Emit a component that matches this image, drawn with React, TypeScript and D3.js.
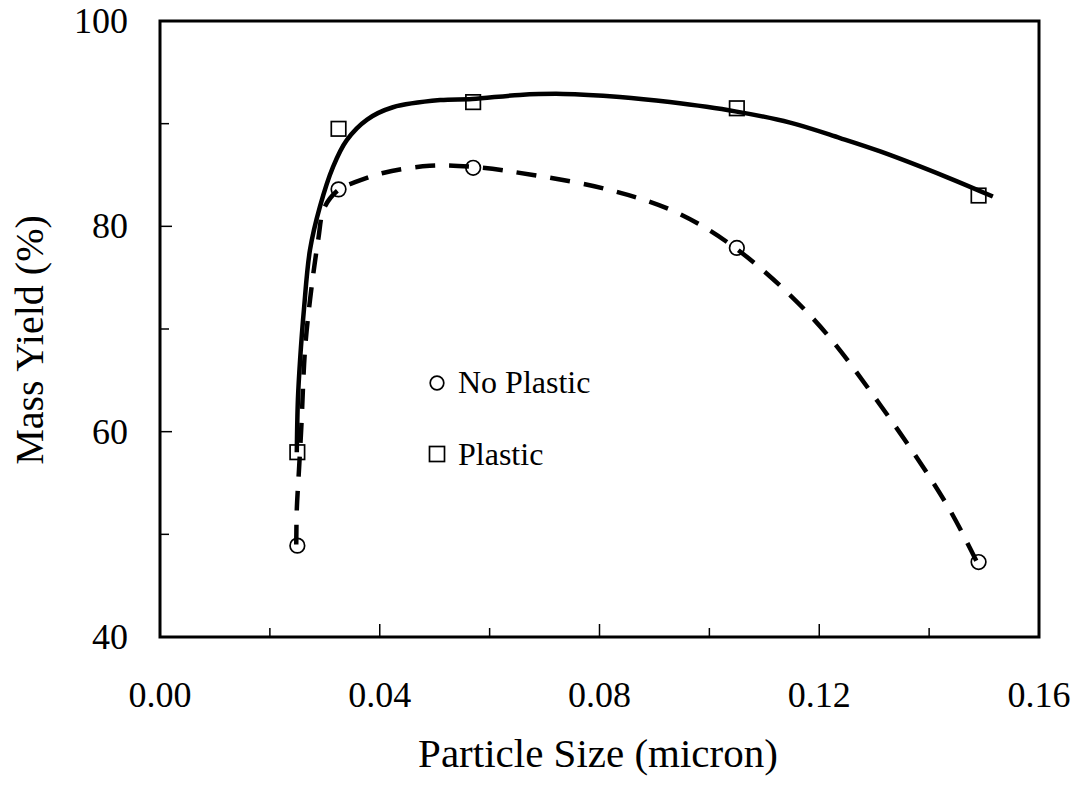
import React from 'react';
import * as d3 from 'd3';

// Measured points (particle size in micron, mass yield in %)
const particleSize = [0.025, 0.0325, 0.057, 0.105, 0.149];
const yieldNoPlastic = [48.9, 83.6, 85.7, 77.9, 47.3];
const yieldPlastic = [58.0, 89.5, 92.1, 91.5, 83.0];

// Fitted trend curves
const fitPlasticX = [0.0249, 0.0251, 0.0255, 0.0262, 0.0273, 0.0291, 0.0315, 0.034, 0.0377, 0.0424, 0.051, 0.0568, 0.0655, 0.0734, 0.0837, 0.0928, 0.1047, 0.1147, 0.1238, 0.1311, 0.1432, 0.1516];
const fitPlasticY = [58.0, 63.1, 67.0, 71.9, 77.7, 81.9, 85.8, 88.4, 90.4, 91.6, 92.3, 92.4, 92.8, 92.9, 92.6, 92.1, 91.2, 90.1, 88.6, 87.3, 84.8, 82.9];
const fitNoPlasticX = [0.0248, 0.0249, 0.0253, 0.0257, 0.0264, 0.0273, 0.0288, 0.0299, 0.0326, 0.0355, 0.0406, 0.0491, 0.0568, 0.0679, 0.0814, 0.0934, 0.1047, 0.1189, 0.1311, 0.1432, 0.1487];
const fitNoPlasticY = [49.0, 52.4, 56.3, 60.2, 68.0, 72.8, 78.7, 81.8, 83.6, 84.3, 85.2, 85.9, 85.8, 85.0, 83.6, 81.5, 77.9, 71.0, 62.6, 52.9, 47.3];

const xTicks = [0, 0.04, 0.08, 0.12, 0.16];
const xMinorTicks = [0.02, 0.06, 0.1, 0.14];
const yTicks = [40, 60, 80, 100];
const yMinorTicks = [50, 70, 90];

const W = 1076;
const H = 786;
const left = 160;
const right = 1039;
const top = 21;
const bottom = 637;
const FONT = "'Liberation Serif', 'Times New Roman', Times, serif";

export default function App() {
  const x = d3.scaleLinear().domain([0, 0.16]).range([left, right]);
  const y = d3.scaleLinear().domain([40, 100]).range([bottom, top]);

  const line = d3
    .line<[number, number]>()
    .x((d) => x(d[0]))
    .y((d) => y(d[1]))
    .curve(d3.curveCatmullRom.alpha(0.5));

  const plasticFit = line(fitPlasticX.map((v, i) => [v, fitPlasticY[i]] as [number, number])) || '';
  const noPlasticFit = line(fitNoPlasticX.map((v, i) => [v, fitNoPlasticY[i]] as [number, number])) || '';

  const sq = 14.5;

  return (
    <svg
      width={W}
      height={H}
      viewBox={`0 0 ${W} ${H}`}
      style={{ position: 'absolute', left: 0, top: 0, background: '#fff' }}
      fontFamily={FONT}
    >
      <rect x={0} y={0} width={W} height={H} fill="#fff" />

      {/* curves */}
      <path d={plasticFit} fill="none" stroke="#000" strokeWidth={4.5} />
      <path d={noPlasticFit} fill="none" stroke="#000" strokeWidth={4.5} strokeDasharray="20 14" />

      {/* markers */}
      {particleSize.map((v, i) => (
        <circle key={`c${i}`} cx={x(v)} cy={y(yieldNoPlastic[i])} r={7.3} fill="none" stroke="#000" strokeWidth={1.7} />
      ))}
      {particleSize.map((v, i) => (
        <rect
          key={`s${i}`}
          x={x(v) - sq / 2}
          y={y(yieldPlastic[i]) - sq / 2}
          width={sq}
          height={sq}
          fill="none"
          stroke="#000"
          strokeWidth={1.7}
        />
      ))}

      {/* ticks */}
      {xTicks.slice(1, -1).map((t) => (
        <line key={`xt${t}`} x1={x(t)} x2={x(t)} y1={bottom} y2={bottom - 13} stroke="#000" strokeWidth={1.5} />
      ))}
      {xMinorTicks.map((t) => (
        <line key={`xm${t}`} x1={x(t)} x2={x(t)} y1={bottom} y2={bottom - 9} stroke="#000" strokeWidth={1.5} />
      ))}
      {yTicks.slice(1, -1).map((t) => (
        <line key={`yt${t}`} x1={left} x2={left + 12} y1={y(t)} y2={y(t)} stroke="#000" strokeWidth={1.5} />
      ))}
      {yMinorTicks.map((t) => (
        <line key={`ym${t}`} x1={left} x2={left + 9} y1={y(t)} y2={y(t)} stroke="#000" strokeWidth={1.5} />
      ))}

      {/* frame */}
      <rect x={left} y={top} width={right - left} height={bottom - top} fill="none" stroke="#000" strokeWidth={3} />

      {/* tick labels */}
      {xTicks.map((t) => (
        <text key={`xl${t}`} x={x(t)} y={707} textAnchor="middle" fontSize={36} fill="#000">
          {d3.format('.2f')(t)}
        </text>
      ))}
      {yTicks.map((t) => (
        <text key={`yl${t}`} x={128} y={y(t) + 12} textAnchor="end" fontSize={36} fill="#000">
          {t}
        </text>
      ))}

      {/* axis titles */}
      <text x={598} y={767} textAnchor="middle" fontSize={41} fill="#000">
        Particle Size (micron)
      </text>
      <text transform="translate(43,340) rotate(-90)" textAnchor="middle" fontSize={40} fill="#000">
        Mass Yield (%)
      </text>

      {/* legend */}
      <circle cx={437} cy={383} r={6.8} fill="none" stroke="#000" strokeWidth={1.7} />
      <text x={458} y={393} fontSize={32} fill="#000">No Plastic</text>
      <rect x={437 - 7.5} y={454 - 7.5} width={15} height={15} fill="none" stroke="#000" strokeWidth={1.7} />
      <text x={458} y={465} fontSize={32} fill="#000">Plastic</text>
    </svg>
  );
}
